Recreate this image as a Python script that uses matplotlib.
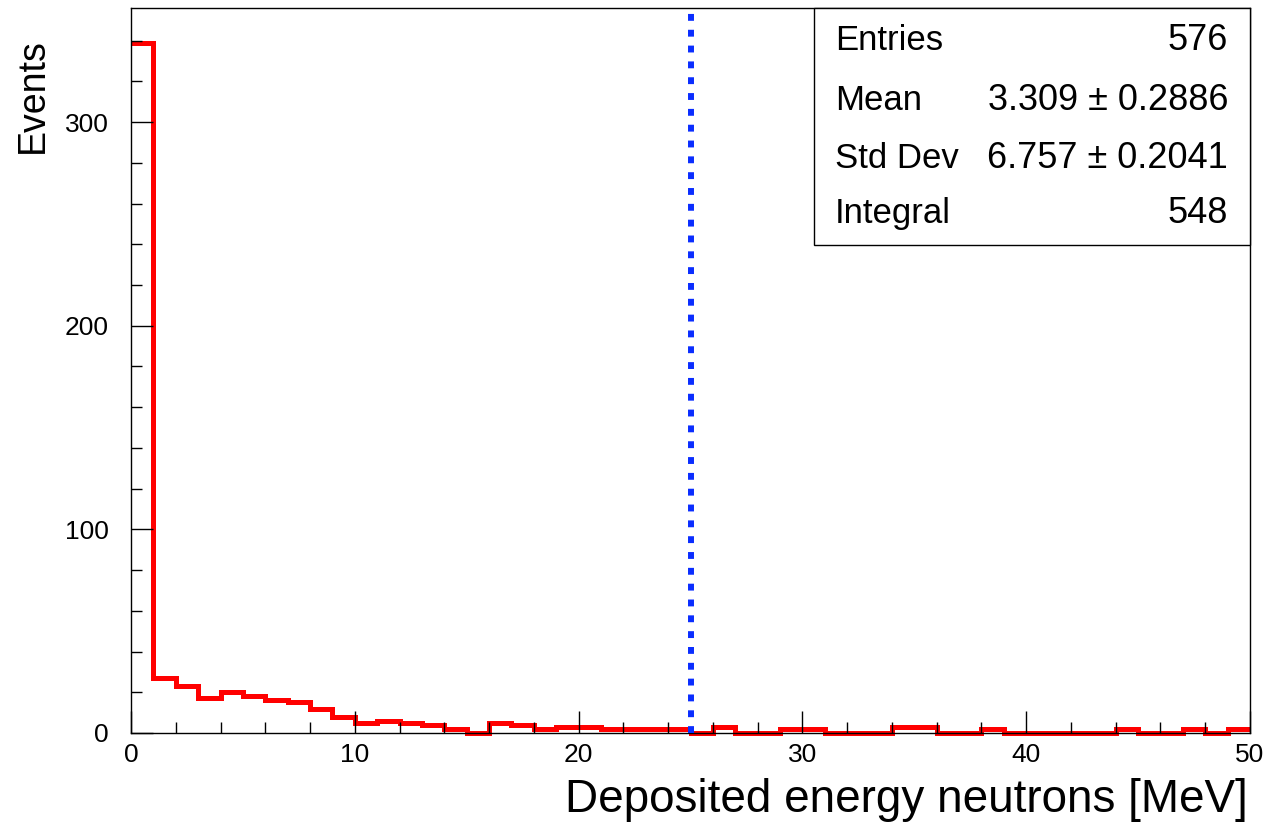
import numpy as np
import matplotlib
matplotlib.use("Agg")
import matplotlib.pyplot as plt
from matplotlib.patches import Rectangle
from matplotlib.ticker import MultipleLocator

plt.rcParams['font.family'] = ['Liberation Sans', 'DejaVu Sans']

# ---- data (bin contents, 1 MeV bins from 0 to 50) ----
bin_edges = np.arange(0, 51, 1)
counts = [339, 27, 23, 17, 20, 18, 16, 15, 12, 8,
          5, 6, 5, 4, 2, 0, 5, 4, 2, 3,
          3, 2, 2, 2, 2, 0, 3, 0, 0, 2,
          2, 0, 0, 0, 3, 3, 0, 0, 2, 0,
          0, 0, 0, 0, 2, 0, 0, 2, 0, 2]
cut_value = 25
stats_labels = ["Entries", "Mean", "Std Dev", "Integral"]
stats_values = ["576", "3.309 \u00b1 0.2886", "6.757 \u00b1 0.2041", "548"]
x_label = "Deposited energy neutrons [MeV]"
y_label = "Events"

W, H = 1269, 826
fig = plt.figure(figsize=(W / 100, H / 100), dpi=100)
L, R, T, B = 131, 1250, 8, 733
ax = fig.add_axes([L / W, 1 - B / H, (R - L) / W, (B - T) / H])

ax.stairs(counts, bin_edges, color='#ff0000', linewidth=3.6, baseline=None,
          clip_on=False, zorder=1)
ax.axvline(cut_value, color='#0a2dff', linewidth=4.3, linestyle=(0, (1.15, 1.5)),
           dash_capstyle='butt', zorder=3)

ax.set_xlim(0, 50)
ax.set_ylim(0, 356)

ax.xaxis.set_major_locator(MultipleLocator(10))
ax.xaxis.set_minor_locator(MultipleLocator(2))
ax.yaxis.set_major_locator(MultipleLocator(100))
ax.yaxis.set_minor_locator(MultipleLocator(20))
ax.tick_params(axis='both', which='both', direction='in', top=False, right=False,
               width=1.0, color='black')
ax.tick_params(axis='both', which='major', length=16, labelsize=19)
ax.tick_params(axis='both', which='minor', length=8)
ax.tick_params(axis='x', which='major', pad=7)
ax.tick_params(axis='y', which='major', pad=16)
for s in ax.spines.values():
    s.set_linewidth(1.0)

ax.set_xlabel(x_label, fontsize=33, ha='right')
ax.xaxis.set_label_coords((1248 - L) / (R - L), (B - 800) / (B - T))
ax.xaxis.label.set_va('center')
ax.set_ylabel(y_label, fontsize=27, ha='right')
ax.yaxis.set_label_coords((33 - L) / (R - L), (B - 38) / (B - T))
ax.yaxis.label.set_va('center')

# stats box
bx0 = (814 - L) / (R - L)
by0 = (B - 245) / (B - T)
ax.add_patch(Rectangle((bx0, by0), 1 - bx0, 1 - by0, transform=ax.transAxes,
                       facecolor='white', edgecolor='black', linewidth=1.0,
                       zorder=5, clip_on=False))
rows_y = [40, 100, 158, 213]
for lab, val, yy in zip(stats_labels, stats_values, rows_y):
    yf = (B - yy) / (B - T)
    ax.text((835 - L) / (R - L), yf, lab, transform=ax.transAxes, fontsize=25,
            ha='left', va='center', zorder=6)
    ax.text((1228 - L) / (R - L), yf, val, transform=ax.transAxes, fontsize=26,
            ha='right', va='center', zorder=6)

fig.savefig("out.png", dpi=100)
